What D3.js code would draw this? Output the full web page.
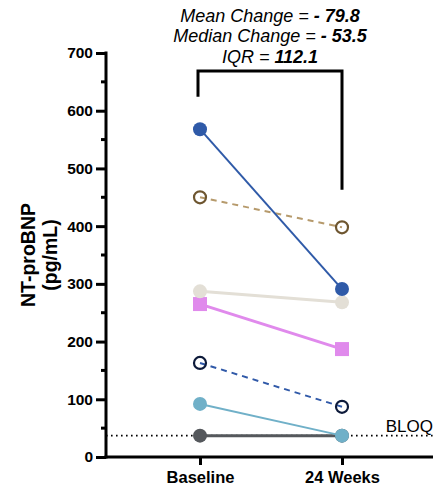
<!DOCTYPE html>
<html><head><meta charset="utf-8">
<script src="https://cdn.jsdelivr.net/npm/d3@7"></script>
<style>body{margin:0;background:#fff}svg{display:block}</style>
</head><body>
<script>
const timepoints = ["Baseline", "24 Weeks"];
const yTicks = [0,100,200,300,400,500,600,700];
const bloq = 37;
const seriesNames = ["brown","blue","pink","gray","navy","lightblue","dark"];
const baselineVals = [450, 568, 265, 287, 163, 92, 37];
const week24Vals   = [398, 291, 187, 268, 87, 37, 37];
const bracketVals = {left: 624, top: 669, right: 463};
const statLines = [["Mean Change = ","- 79.8"],["Median Change = ","- 53.5"],["IQR = ","112.1"]];

const styles = {
  brown: {line:"#b69a6c", dash:"6,5", w:2, marker:"open", stroke:"#6e5630", fill:"#fff"},
  blue:  {line:"#2f5aa8", dash:null, w:2, marker:"circle", fill:"#2f5aa8"},
  pink:  {line:"#e08aec", dash:null, w:3, marker:"square", fill:"#e08aec"},
  gray:  {line:"#e3dfd6", dash:null, w:3, marker:"circle", fill:"#e3dfd6"},
  navy:  {line:"#3059a8", dash:"6,5", w:2, marker:"open", stroke:"#0d1a3a", fill:"#fff"},
  lightblue:{line:"#70b0c8", dash:null, w:2, marker:"circle", fill:"#70b0c8"},
  dark:  {line:"#55585c", dash:null, w:3, marker:"circle", fill:"#55585c"}
};

const FONT="Liberation Sans, Arial, sans-serif";
const W=433,H=489;
const svg=d3.select("body").append("svg").attr("width",W).attr("height",H);
const x=d3.scalePoint().domain(timepoints).range([200,342]);
const y=d3.scaleLinear().domain([0,700]).range([457,53]);
const axisX0=106, axisX1=433;

// BLOQ dotted line
svg.append("line").attr("x1",axisX0).attr("x2",W).attr("y1",y(bloq)).attr("y2",y(bloq))
  .attr("stroke","#000").attr("stroke-width",1.6).attr("stroke-dasharray","1.6,3.4");
svg.append("text").attr("x",433).attr("y",y(bloq)-4).attr("text-anchor","end")
  .attr("font-family",FONT).attr("font-size",17).text("BLOQ");

// Y axis
const yAxis=d3.axisLeft(y).tickValues(yTicks).tickSize(10).tickPadding(3).tickFormat(d3.format("d"));
const gy=svg.append("g").attr("transform",`translate(${axisX0},0)`).call(yAxis);
gy.select(".domain").remove();
gy.selectAll(".tick line").attr("stroke-width",3);
gy.selectAll(".tick text").attr("font-family",FONT).attr("font-size",15.5).attr("font-weight","bold").attr("fill","#000");
const minor=d3.range(50,700,100);
svg.append("g").selectAll("line").data(minor).join("line")
  .attr("x1",axisX0-5).attr("x2",axisX0).attr("y1",d=>y(d)).attr("y2",d=>y(d))
  .attr("stroke","#000").attr("stroke-width",3);
svg.append("line").attr("x1",axisX0).attr("x2",axisX0).attr("y1",y(700)-1.5).attr("y2",y(0)+1.5).attr("stroke","#000").attr("stroke-width",3);

// X axis
const xAxis=d3.axisBottom(x).tickSize(8).tickPadding(6);
const gx=svg.append("g").attr("transform",`translate(0,${y(0)})`).call(xAxis);
gx.select(".domain").remove();
gx.selectAll(".tick line").attr("stroke-width",3);
gx.selectAll(".tick text").attr("font-family",FONT).attr("font-size",16.5).attr("font-weight","bold").attr("fill","#000");
svg.append("line").attr("x1",axisX0-1.5).attr("x2",axisX1).attr("y1",y(0)).attr("y2",y(0)).attr("stroke","#000").attr("stroke-width",3);

// Y label
const yl=svg.append("text").attr("transform",`translate(35,${(y(0)+y(700))/2}) rotate(-90)`)
  .attr("text-anchor","middle").attr("font-family",FONT)
  .attr("font-size",19.5).attr("font-weight","bold");
yl.append("tspan").attr("x",0).attr("dy",0).text("NT-proBNP");
yl.append("tspan").attr("x",0).attr("dy",22).text("(pg/mL)");

// series
const drawOrder=["dark","lightblue","navy","pink","gray","brown","blue"];
const data=seriesNames.map((n,i)=>({name:n,vals:[baselineVals[i],week24Vals[i]]}));
const byName=Object.fromEntries(data.map(d=>[d.name,d]));
drawOrder.forEach(n=>{
  const d=byName[n], s=styles[n];
  const g=svg.append("g");
  g.append("line").attr("x1",x(timepoints[0])).attr("y1",y(d.vals[0]))
    .attr("x2",x(timepoints[1])).attr("y2",y(d.vals[1]))
    .attr("stroke",s.line).attr("stroke-width",s.w).attr("stroke-dasharray",s.dash);
  timepoints.forEach((t,i)=>{
    const cx=x(t), cy=y(d.vals[i]);
    if(s.marker==="circle") g.append("circle").attr("cx",cx).attr("cy",cy).attr("r",7).attr("fill",s.fill);
    else if(s.marker==="open") g.append("circle").attr("cx",cx).attr("cy",cy).attr("r",6).attr("fill","none").attr("stroke",s.stroke).attr("stroke-width",2.2);
    else g.append("rect").attr("x",cx-7).attr("y",cy-7).attr("width",14).attr("height",14).attr("fill",s.fill);
  });
});

// bracket
svg.append("path").attr("d",`M${x(timepoints[0])-2},${y(bracketVals.left)}V${y(bracketVals.top)}H${x(timepoints[1])}V${y(bracketVals.right)}`)
  .attr("fill","none").attr("stroke","#000").attr("stroke-width",3);

// stats text
const baseYs=[22,42,63];
statLines.forEach((l,i)=>{
  const t=svg.append("text").attr("x",270).attr("y",baseYs[i]).attr("text-anchor","middle")
    .attr("font-family",FONT).attr("font-size",18).attr("font-style","italic");
  t.append("tspan").text(l[0]);
  t.append("tspan").attr("font-weight","bold").text(l[1]);
});
</script>
</body></html>
